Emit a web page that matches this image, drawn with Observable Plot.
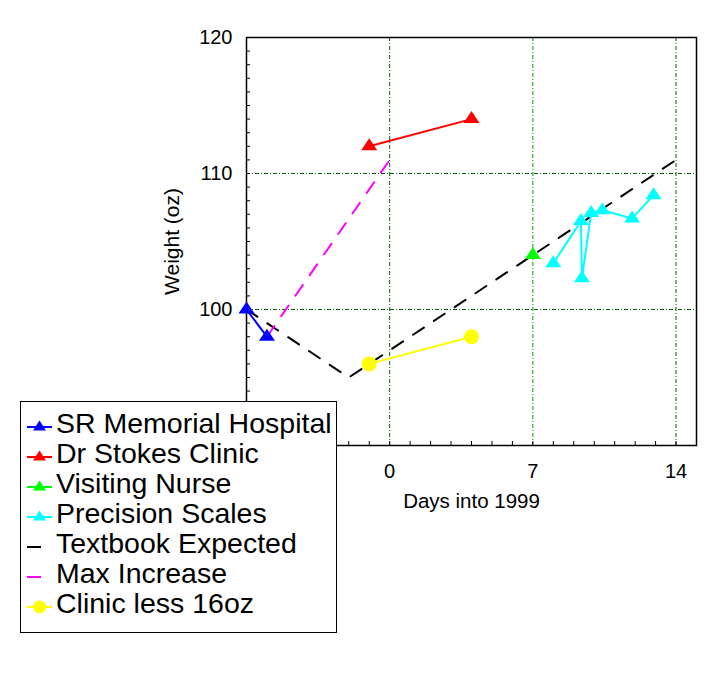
<!DOCTYPE html>
<html><head><meta charset="utf-8">
<script src="https://cdn.jsdelivr.net/npm/d3@7"></script>
<script src="https://cdn.jsdelivr.net/npm/@observablehq/plot@0.6"></script>
<style>
body{margin:0;background:#fff}
#wrap{position:relative;width:711px;height:677px;font-family:"Liberation Sans",Arial,Helvetica,sans-serif}
</style>
</head><body><div id="wrap"></div>
<script>
// ---- axes / tick labels ----
const xDomain = [-7, 15];
const yDomain = [90, 120];
const xTickLabels = [0, 7, 14];
const yTickLabels = [100, 110, 120];
const xMinorTicks = d3.range(-7, 16);
const yMinorTicks = d3.range(90, 121);
const gridX = [0, 14];
const markerX = [7];
const gridY = [100, 110];
const xTitle = "Days into 1999";
const yTitle = "Weight (oz)";

// ---- series ----
const seriesNames = ["SR Memorial Hospital", "Dr Stokes Clinic", "Visiting Nurse", "Precision Scales", "Textbook Expected", "Max Increase", "Clinic less 16oz"];
const seriesColors = ["#0000ff", "#ff0000", "#00ff00", "#00ffff", "#000000", "#ff00ff", "#ffff00"];

const hospitalDays = [-7, -6];
const hospitalWeights = [100, 98];
const clinicDays = [-1, 4];
const clinicWeights = [112, 114];
const nurseDays = [7];
const nurseWeights = [104];
const scalesDays = [8, 9.35, 9.4, 9.85, 10.4, 11.85, 12.9];
const scalesWeights = [103.4, 106.5, 102.3, 107.1, 107.3, 106.7, 108.4];
const expectedDays = [-7, -2, 14];
const expectedWeights = [100, 95, 111];
const maxDays = [-6, 0];
const maxWeights = [98, 111];
const lessDays = [-1, 4];
const lessWeights = [96, 98];

const rows = (days, weights) => days.map((d, i) => ({day: d, weight: weights[i]}));

// custom flattened triangle (centroid-centred)
const flatTriangle = {
  draw(ctx, size) {
    const r = Math.sqrt(size / Math.PI);
    ctx.moveTo(0, -r * 4 / 3);
    ctx.lineTo(r * 4 / 3, r * 2 / 3);
    ctx.lineTo(-r * 4 / 3, r * 2 / 3);
    ctx.closePath();
  }
};

const fontFam = '"Liberation Sans", Arial, Helvetica, sans-serif';
const gridDark = "#006400";
const gridBright = "#009a00";
const dashGrid = "4,2,1,2";
const dashLine = "13,12";

const lineSeries = [
  {data: rows(hospitalDays, hospitalWeights), c: 0},
  {data: rows(clinicDays, clinicWeights), c: 1},
  {data: rows(scalesDays, scalesWeights), c: 3},
  {data: rows(lessDays, lessWeights), c: 6}
];

const chart = Plot.plot({
  width: 711,
  height: 677,
  marginLeft: 246,
  marginRight: 15,
  marginTop: 37,
  marginBottom: 232,
  x: {domain: xDomain, axis: null},
  y: {domain: yDomain, axis: null},
  style: {fontFamily: fontFam, fontSize: "20px", color: "black", background: "white"},
  marks: [
    Plot.ruleY(gridY, {stroke: gridDark, strokeWidth: 1, strokeDasharray: dashGrid}),
    Plot.ruleX(gridX, {stroke: gridDark, strokeWidth: 1, strokeDasharray: dashGrid}),
    Plot.ruleX(markerX, {stroke: gridBright, strokeWidth: 1, strokeDasharray: dashGrid}),
    Plot.axisX(xMinorTicks, {anchor: "bottom", tickSize: -4, tickFormat: () => "", label: null, strokeWidth: 1}),
    Plot.axisY(yMinorTicks, {anchor: "left", tickSize: -4, tickFormat: () => "", label: null, strokeWidth: 1}),
    Plot.axisX(xTickLabels, {anchor: "bottom", tickSize: 0, tickPadding: 18, label: null, fontSize: 20}),
    Plot.axisY(yTickLabels, {anchor: "left", tickSize: 0, tickPadding: 14, label: null, fontSize: 20}),
    Plot.text([xTitle], {frameAnchor: "bottom", textAnchor: "middle", lineAnchor: "middle", dy: 56, text: d => d, fontSize: 20.5}),
    Plot.text([yTitle], {frameAnchor: "left", textAnchor: "middle", lineAnchor: "middle", dx: -74, rotate: -90, text: d => d, fontSize: 21}),
    Plot.frame({stroke: "black", strokeWidth: 1.5}),
    Plot.line(rows(expectedDays, expectedWeights), {x: "day", y: "weight", stroke: seriesColors[4], strokeWidth: 2, strokeDasharray: dashLine}),
    Plot.line(rows(maxDays, maxWeights), {x: "day", y: "weight", stroke: seriesColors[5], strokeWidth: 2, strokeDasharray: dashLine}),
    ...lineSeries.map(s => Plot.line(s.data, {x: "day", y: "weight", stroke: seriesColors[s.c], strokeWidth: 2})),
    Plot.dot(rows(hospitalDays, hospitalWeights), {x: "day", y: "weight", symbol: flatTriangle, r: 6, fill: seriesColors[0]}),
    Plot.dot(rows(clinicDays, clinicWeights), {x: "day", y: "weight", symbol: flatTriangle, r: 6, fill: seriesColors[1]}),
    Plot.dot(rows(nurseDays, nurseWeights), {x: "day", y: "weight", symbol: flatTriangle, r: 6, fill: seriesColors[2]}),
    Plot.dot(rows(scalesDays, scalesWeights), {x: "day", y: "weight", symbol: flatTriangle, r: 6, fill: seriesColors[3]}),
    Plot.dot(rows(lessDays, lessWeights), {x: "day", y: "weight", r: 7.5, fill: seriesColors[6]})
  ]
});

const wrap = document.getElementById("wrap");
wrap.appendChild(chart);

// ---- legend (overlaid on lower-left) ----
const legendKinds = ["tri", "tri", "tri", "tri", "dash", "dash", "circle"];
const lg = d3.create("svg").attr("id", "legend").attr("width", 318).attr("height", 232)
  .style("position", "absolute").style("left", "20px").style("top", "401px");
lg.append("rect").attr("x", 0.5).attr("y", 0.5).attr("width", 316).attr("height", 231)
  .attr("fill", "white").attr("stroke", "black").attr("stroke-width", 1);
seriesNames.forEach((name, i) => {
  const cy = 26 + 30 * i;
  const g = lg.append("g");
  const col = seriesColors[i];
  if (legendKinds[i] === "dash") {
    g.append("line").attr("x1", 7).attr("x2", 21).attr("y1", cy).attr("y2", cy).attr("stroke", col).attr("stroke-width", 2);
  } else {
    g.append("line").attr("x1", 7).attr("x2", 32).attr("y1", cy).attr("y2", cy).attr("stroke", col).attr("stroke-width", 2);
    if (legendKinds[i] === "tri") {
      g.append("path").attr("d", `M19.5,${cy - 6.5}L26,${cy + 3.5}L13,${cy + 3.5}Z`).attr("fill", col);
    } else {
      g.append("circle").attr("cx", 19.5).attr("cy", cy).attr("r", 6.5).attr("fill", col);
    }
  }
  g.append("text").attr("x", 36).attr("y", 32 + 30 * i).attr("font-size", 28.5)
    .attr("font-family", fontFam).attr("fill", "black").text(name);
});
wrap.appendChild(lg.node());
</script>
</body></html>
